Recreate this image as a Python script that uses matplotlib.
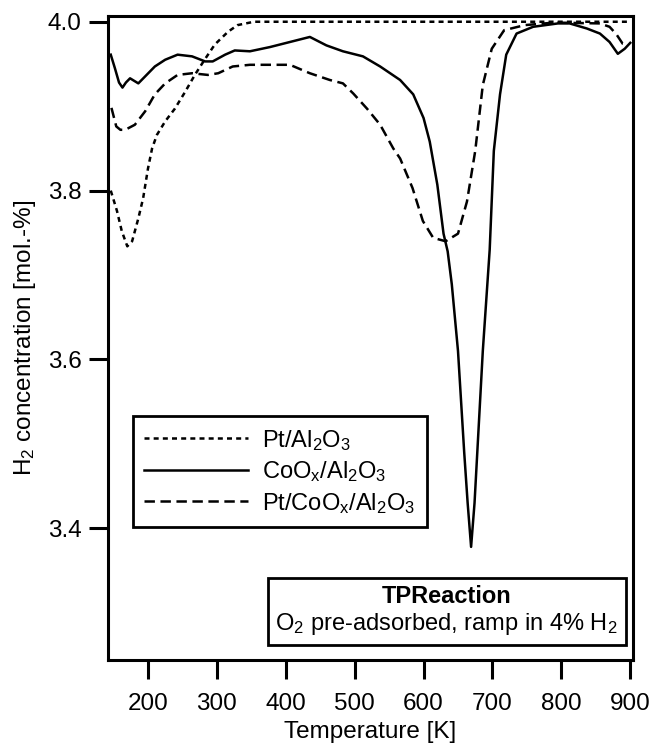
import matplotlib
matplotlib.use("Agg")
import matplotlib.pyplot as plt
from matplotlib.patches import Rectangle
from matplotlib.ticker import FormatStrFormatter

plt.rcParams['font.family'] = ['Liberation Sans', 'DejaVu Sans']
plt.rcParams['mathtext.fontset'] = 'custom'
plt.rcParams['mathtext.rm'] = 'Liberation Sans'
plt.rcParams['mathtext.it'] = 'Liberation Sans:italic'
plt.rcParams['mathtext.bf'] = 'Liberation Sans:bold'
plt.rcParams['lines.scale_dashes'] = False

# ---- data ----
T_pt = [146, 155, 162, 170, 177, 186, 193, 200, 206, 213, 225, 239, 254, 268, 283,
        297, 316, 330, 354, 400, 500, 600, 700, 800, 900]
y_pt = [3.800, 3.776, 3.752, 3.734, 3.740, 3.767, 3.791, 3.826, 3.850, 3.866, 3.882,
        3.897, 3.917, 3.937, 3.956, 3.973, 3.988, 3.996, 4.000, 4.000, 4.000, 4.000,
        4.000, 4.000, 4.000]

T_co = [146, 152, 158, 163, 168, 174, 180, 186, 192, 198, 210, 225, 243, 264, 283,
        294, 312, 326, 348, 377, 406, 435, 459, 483, 512, 537, 566, 585, 600, 609,
        620, 629, 635, 641, 650, 659, 664, 669, 674, 678, 686, 696, 702, 711, 720,
        735, 759, 795, 812, 837, 856, 870, 882, 892, 900]
y_co = [3.961, 3.945, 3.928, 3.922, 3.928, 3.933, 3.930, 3.927, 3.932, 3.937, 3.947,
        3.955, 3.961, 3.959, 3.953, 3.953, 3.961, 3.966, 3.965, 3.970, 3.976, 3.982,
        3.972, 3.965, 3.959, 3.947, 3.931, 3.914, 3.886, 3.858, 3.807, 3.749, 3.728,
        3.689, 3.610, 3.490, 3.430, 3.378, 3.430, 3.490, 3.610, 3.730, 3.847, 3.914,
        3.961, 3.986, 3.994, 3.998, 3.998, 3.992, 3.986, 3.976, 3.962, 3.968, 3.975]

T_ptco = [147, 154, 160, 167, 181, 196, 210, 225, 243, 264, 287, 302, 323, 348, 377,
          406, 435, 464, 483, 498, 518, 537, 556, 566, 584, 599, 614, 632, 650, 663,
          675, 686, 699, 717, 747, 790, 856, 870, 880, 889, 897]
y_ptco = [3.898, 3.876, 3.872, 3.872, 3.878, 3.894, 3.914, 3.927, 3.937, 3.939, 3.937,
          3.939, 3.947, 3.949, 3.949, 3.949, 3.939, 3.931, 3.927, 3.915, 3.897, 3.878,
          3.850, 3.838, 3.803, 3.764, 3.744, 3.740, 3.749, 3.787, 3.847, 3.925, 3.968,
          3.990, 3.996, 3.999, 3.998, 3.994, 3.985, 3.974, 3.973]

labels = ["Pt/Al$_2$O$_3$", "CoO$_\\mathrm{x}$/Al$_2$O$_3$", "Pt/CoO$_\\mathrm{x}$/Al$_2$O$_3$"]
xticks = [200, 300, 400, 500, 600, 700, 800, 900]
yticks = [3.4, 3.6, 3.8, 4.0]

FS = 17.5
FS_LEG = 17
fig = plt.figure(figsize=(6.51, 7.43), dpi=100)
ax = fig.add_axes([108/651, 83/743, 525/651, 644/743])

lw = 1.8
ax.plot(T_pt, y_pt, color='black', lw=lw, dashes=(3.6, 3.0), label=labels[0])
ax.plot(T_co, y_co, color='black', lw=lw, ls='-', label=labels[1])
ax.plot(T_ptco, y_ptco, color='black', lw=lw, dashes=(7.5, 4.0), label=labels[2])

ax.set_xlim(142, 904)
ax.set_ylim(3.244, 4.0068)
ax.set_xticks(xticks)
ax.set_yticks(yticks)
ax.yaxis.set_major_formatter(FormatStrFormatter('%.1f'))
for s in ax.spines.values():
    s.set_linewidth(2.2)
ax.tick_params(axis='both', which='major', direction='out', length=14, width=2.2,
               labelsize=FS, color='black')
ax.tick_params(axis='x', pad=10)
ax.tick_params(axis='y', pad=5)

ax.set_xlabel("Temperature [K]", fontsize=FS, labelpad=4)
ax.set_ylabel("H$_2$ concentration [mol.-%]", fontsize=FS, labelpad=7)

leg = ax.legend(loc='upper left', bbox_to_anchor=(0.0467, 0.379), borderaxespad=0,
                fontsize=FS_LEG, handlelength=4.4, handletextpad=0.6, borderpad=0.5,
                labelspacing=0.28, fancybox=False, framealpha=1, edgecolor='black')
leg.get_frame().set_linewidth(2.0)

box = Rectangle((0.305, 0.0233), 0.682, 0.1037, transform=ax.transAxes,
                fill=False, edgecolor='black', lw=2.0)
ax.add_patch(box)
ax.text(0.645, 0.0985, "TPReaction", transform=ax.transAxes, ha='center', va='center',
        fontsize=FS_LEG, fontweight='bold')
ax.text(0.645, 0.0565, "O$_2$ pre-adsorbed, ramp in 4% H$_2$", transform=ax.transAxes,
        ha='center', va='center', fontsize=FS_LEG)

fig.savefig("out.png", dpi=100)
